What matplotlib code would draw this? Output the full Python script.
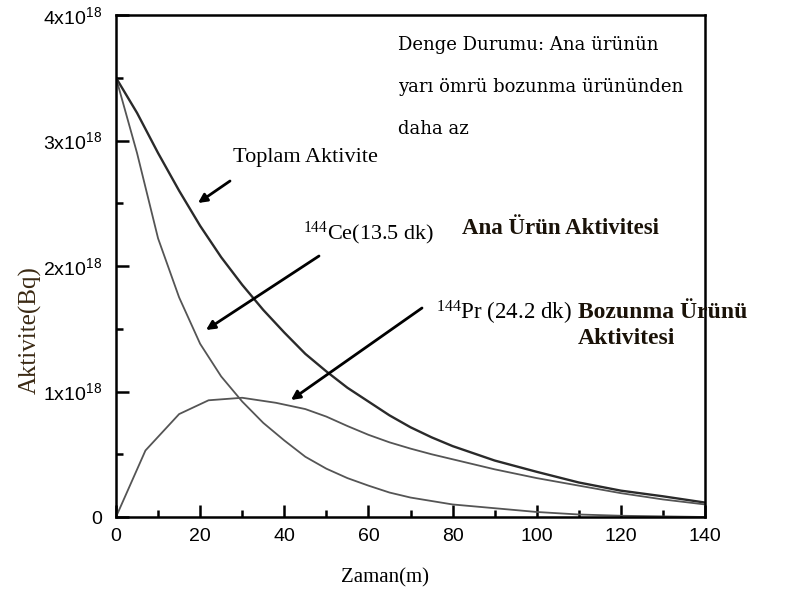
import matplotlib
matplotlib.use("Agg")
import matplotlib.pyplot as plt
from matplotlib.ticker import MultipleLocator, FixedLocator

# ---- data (activity in units of 1e18 Bq, time in minutes) ----
ce_time = [0, 5, 10, 15, 20, 25, 30, 35, 40, 45, 50, 55, 60, 65, 70, 80, 90, 100, 110, 120, 130, 140]
ce_activity = [3.5, 2.9, 2.22, 1.75, 1.38, 1.12, 0.92, 0.75, 0.61, 0.48, 0.385, 0.31, 0.25, 0.195, 0.155,
               0.10, 0.07, 0.04, 0.02, 0.01, 0.005, 0.0]

pr_time = [0, 7, 15, 22, 30, 38, 45, 50, 55, 60, 65, 70, 75, 80, 90, 100, 110, 120, 130, 140]
pr_activity = [0, 0.53, 0.82, 0.93, 0.95, 0.91, 0.86, 0.80, 0.725, 0.655, 0.595, 0.545, 0.50, 0.46,
               0.38, 0.31, 0.25, 0.19, 0.14, 0.10]

total_time = [0, 5, 10, 15, 20, 25, 30, 35, 40, 45, 50, 55, 60, 65, 70, 75, 80, 90, 100, 110, 120, 130, 140]
total_activity = [3.5, 3.22, 2.9, 2.6, 2.32, 2.07, 1.85, 1.65, 1.47, 1.30, 1.16, 1.03, 0.92, 0.81, 0.715,
                  0.635, 0.565, 0.45, 0.36, 0.275, 0.21, 0.165, 0.115]

x_ticks = [0, 20, 40, 60, 80, 100, 120, 140]
y_ticks = [0, 1, 2, 3, 4]
y_tick_labels = ["0", r"$\mathregular{1x10^{18}}$", r"$\mathregular{2x10^{18}}$",
                 r"$\mathregular{3x10^{18}}$", r"$\mathregular{4x10^{18}}$"]

W, H = 792, 597
fig = plt.figure(figsize=(W / 100, H / 100), dpi=100)
ax = fig.add_axes([116 / W, 1 - 517 / H, (705 - 116) / W, (517 - 15) / H])

ax.plot(total_time, total_activity, color="#2a2a2a", lw=1.7)
ax.plot(ce_time, ce_activity, color="#555555", lw=1.3)
ax.plot(pr_time, pr_activity, color="#555555", lw=1.3)

ax.set_xlim(0, 140)
ax.set_ylim(0, 4)
ax.xaxis.set_major_locator(FixedLocator(x_ticks))
ax.xaxis.set_minor_locator(MultipleLocator(10))
ax.yaxis.set_major_locator(FixedLocator(y_ticks))
ax.yaxis.set_minor_locator(MultipleLocator(0.5))
ax.set_xticklabels([str(v) for v in x_ticks])
ax.set_yticklabels(y_tick_labels)
ax.tick_params(which="both", direction="in", width=1.8, colors="black")
ax.tick_params(which="major", length=9)
ax.tick_params(which="minor", length=5)
ax.tick_params(axis="x", labelsize=14, pad=8)
ax.tick_params(axis="y", labelsize=14, pad=10)
for lab in ax.get_xticklabels() + ax.get_yticklabels():
    lab.set_family("Liberation Sans")
for sp in ax.spines.values():
    sp.set_linewidth(1.8)

serif = "Liberation Serif"

def fp(px, py):
    return (px / W, 1 - py / H)

fig.text(*fp(385, 578), "Zaman(m)", family=serif, fontsize=15, ha="center", va="center")
fig.text(*fp(30, 330), "Aktivite(Bq)", family=serif, fontsize=18, rotation=90,
         ha="center", va="center", color="#3b2a14")

# top note
for i, line in enumerate(["Denge Durumu: Ana ürünün", "yarı ömrü bozunma ürününden", "daha az"]):
    fig.text(*fp(398, 45 + 42 * i), line, family="DejaVu Serif", fontsize=13, ha="left", va="center")

fig.text(*fp(233, 157), "Toplam Aktivite", family=serif, fontsize=16, ha="left", va="center")
fig.text(*fp(303, 233), r"$\mathregular{^{144}}$Ce(13.5 dk)", family=serif, fontsize=16, ha="left", va="center")
fig.text(*fp(462, 228), "Ana Ürün Aktivitesi", family=serif, fontsize=16.5, fontweight="bold",
         ha="left", va="center", color="#1a1208")
fig.text(*fp(436, 313), r"$\mathregular{^{144}}$Pr (24.2 dk)", family=serif, fontsize=16.5, ha="left", va="center")
fig.text(*fp(578, 312), "Bozunma Ürünü", family=serif, fontsize=17, fontweight="bold",
         ha="left", va="center", color="#1a1208")
fig.text(*fp(578, 338), "Aktivitesi", family=serif, fontsize=17, fontweight="bold",
         ha="left", va="center", color="#1a1208")

arrow = dict(arrowstyle="-|>", lw=2, color="black", mutation_scale=13, shrinkA=0, shrinkB=0)
for (x0, y0), (x1, y1) in [((230, 181), (198, 203)),
                           ((319, 256), (206, 330)),
                           ((422, 308), (291, 400))]:
    fig.add_artist(matplotlib.patches.FancyArrowPatch(fp(x0, y0), fp(x1, y1),
                                                      transform=fig.transFigure, **arrow))

fig.savefig("out.png", dpi=100)
